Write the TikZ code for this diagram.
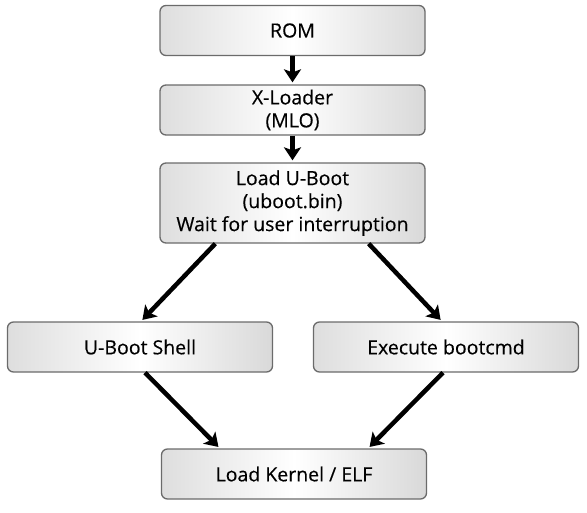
\documentclass[tikz,border=0pt]{standalone}
\usepackage{fontspec}
\setmainfont{Open Sans}[FakeBold=0.3]
\usetikzlibrary{arrows.meta,positioning}
\begin{document}
\begin{tikzpicture}[x=1pt,y=-1pt,
  box/.style={draw=black!58, line width=1.3pt, rounded corners=6pt,
    left color=black!13, right color=black!15, middle color=white,
    minimum width=265pt, minimum height=50pt, inner sep=0pt,
    align=center, font=\fontsize{19.5}{23}\selectfont},
  arr/.style={line width=4.5pt, -{Stealth[length=13pt,width=17pt,inset=3pt]}, shorten >=2pt}]
\useasboundingbox (0,0) rectangle (587,512);
\node[box] (rom) at (292.5,30.5) {ROM};
\node[box] (xl) at (292.5,110) {X-Loader\\(MLO)};
\node[box, minimum height=80pt] (lub) at (292.5,203) {Load U-Boot\\(uboot.bin)\\Wait for user interruption};
\node[box] (shell) at (140,347) {U-Boot Shell};
\node[box] (exec) at (446,347) {Execute bootcmd};
\node[box] (kern) at (294,474) {Load Kernel / ELF};
\draw[arr] (rom) -- (xl);
\draw[arr] (xl) -- (lub);
\draw[arr] ([xshift=56pt]lub.south west) -- ([xshift=1pt]shell.north);
\draw[arr] ([xshift=-57pt]lub.south east) -- ([xshift=-4pt]exec.north);
\draw[arr] ([xshift=5pt]shell.south) -- ([xshift=59pt]kern.north west);
\draw[arr] ([xshift=-3pt]exec.south) -- ([xshift=-59pt]kern.north east);
\end{tikzpicture}
\end{document}
